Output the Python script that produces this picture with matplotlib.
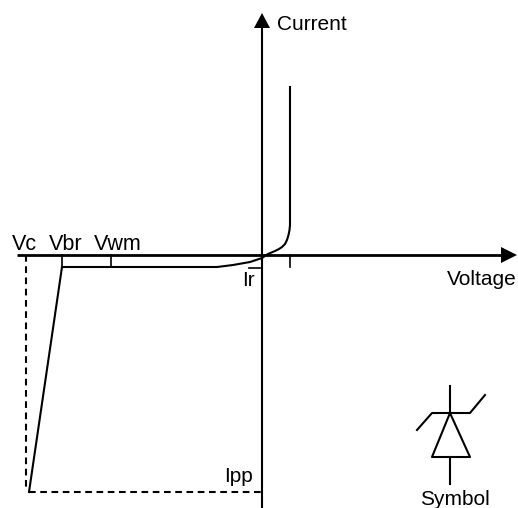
import matplotlib
matplotlib.use("Agg")
import matplotlib.pyplot as plt

plt.rcParams['font.family'] = ['Liberation Sans', 'DejaVu Sans']

curve_x = [28, 28, 27.5, 26.5, 25, 23, 20, 17, 13, 6, 0, -12, -29, -45, -60, -200]
curve_y = [168, 30, 25, 20, 15, 11, 8, 6, 4, 1, -3, -7, -10, -12, -12, -12]
breakdown_x = [-200, -233]
breakdown_y = [-12, -237]
dash_x = [-233, 0]
dash_y = [-237, -237]
vc_x = [-236.5, -236.5]
vc_y = [0, -232]

tick_names = ['Vc', 'Vbr', 'Vwm']
tick_pos = [-200, -151, 28]
label_x = [-238, -196, -144]

fig = plt.figure(figsize=(5.18, 5.08), dpi=100)
ax = fig.add_axes([0, 0, 1, 1])
ax.set_xlim(-262, 256)
ax.set_ylim(-253, 255)
ax.axis('off')

lw = 1.5
# axes
ax.plot([-245, 240], [0, 0], color='black', lw=2, solid_capstyle='butt')
ax.plot([0, 0], [-253, 228], color='black', lw=1.5, solid_capstyle='butt')
ax.fill([-8, 8, 0], [227, 227, 242], color='black', lw=0)
ax.fill([239, 239, 255], [-8, 8, 0], color='black', lw=0)

# ticks
for x in tick_pos:
    ax.plot([x, x], [0, -12], color='black', lw=1.2)
ax.plot([-13, -2], [-13, -13], color='black', lw=1.2)

# characteristic
ax.plot(curve_x, curve_y, color='black', lw=lw)
ax.plot(breakdown_x, breakdown_y, color='black', lw=lw)
ax.plot(dash_x, dash_y, color='black', lw=lw, ls=(0, (3.2, 2.2)))
ax.plot(vc_x, vc_y, color='black', lw=lw, ls=(0, (3.2, 2.2)))

# symbol
ax.plot([188, 188], [-131, -158], color='black', lw=lw)
ax.plot([188, 170, 208, 188], [-158, -202, -202, -158], color='black', lw=lw)
ax.plot([188, 188], [-202, -229], color='black', lw=lw)
ax.plot([155, 170, 208, 223], [-175, -158, -158, -140], color='black', lw=lw)

# text
for name, x in zip(tick_names, label_x):
    ax.text(x, 5, name, fontsize=15.5, ha='center', va='baseline')
ax.text(15, 225, 'Current', fontsize=15, ha='left', va='baseline')
ax.text(185, -30, 'Voltage', fontsize=15, ha='left', va='baseline')
ax.text(-14, -31, 'Ir', fontsize=15, ha='center', va='baseline')
ax.text(-24, -227, 'Ipp', fontsize=15, ha='center', va='baseline')
ax.text(192.5, -250, 'Symbol', fontsize=15, ha='center', va='baseline')

fig.savefig('out.png', dpi=100)
